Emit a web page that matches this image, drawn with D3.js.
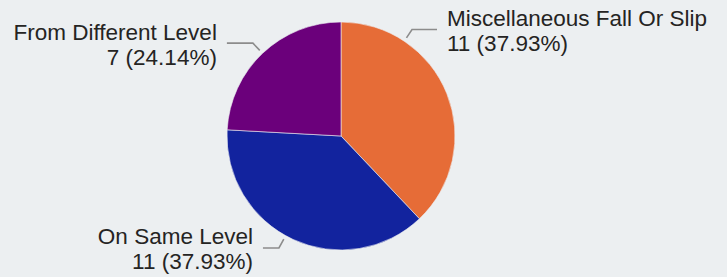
<!DOCTYPE html>
<html>
<head>
<meta charset="utf-8">
<script src="https://cdn.jsdelivr.net/npm/d3@7"></script>
<style>
  html, body { margin: 0; padding: 0; background: #ECEFF1; }
  svg { display: block; }
</style>
</head>
<body>
<svg id="chart" width="727" height="277"></svg>
<script>
// data
var categories = ["Miscellaneous Fall Or Slip", "On Same Level", "From Different Level"];
var values = [11, 11, 7];
var colors = ["#E66C37", "#12239E", "#6B007B"];

// label placement (angle of leader, in degrees clockwise from top; horizontal leg length)
var labelAngles = [33.7, 209, 316.5];
var labelLegs = [25, 16, 26];

var W = 727, H = 277;
var cx = 341, cy = 136, R = 114;

var svg = d3.select("#chart");

var total = d3.sum(values);
var data = categories.map(function(c, i) {
    return { name: c, value: values[i], color: colors[i], ang: labelAngles[i], leg: labelLegs[i] };
});

var pie = d3.pie()
    .value(function(d) { return d.value; })
    .sort(null);

var arc = d3.arc()
    .innerRadius(0)
    .outerRadius(R);

var g = svg.append("g")
    .attr("transform", "translate(" + cx + "," + cy + ")");

g.selectAll("path.slice")
    .data(pie(data))
    .enter()
    .append("path")
    .attr("class", "slice")
    .attr("d", arc)
    .attr("fill", function(d) { return d.data.color; })
    .attr("stroke", "#ECEFF1")
    .attr("stroke-width", 0.6);

function pt(angDeg, r) {
    var a = angDeg * Math.PI / 180;
    return [r * Math.sin(a), -r * Math.cos(a)];
}

var fmt = d3.format(".2%");

var labels = g.selectAll("g.lbl")
    .data(data)
    .enter()
    .append("g")
    .attr("class", "lbl");

labels.append("polyline")
    .attr("points", function(d) {
        var p0 = pt(d.ang, R + 4);
        var p1 = pt(d.ang, R + 14);
        var side = p1[0] >= 0 ? 1 : -1;
        var p2 = [p1[0] + side * d.leg, p1[1]];
        return [p0, p1, p2].map(function(p) { return p.join(","); }).join(" ");
    })
    .attr("fill", "none")
    .attr("stroke", "#8C8C8C")
    .attr("stroke-width", 1.6);

labels.each(function(d) {
    var p1 = pt(d.ang, R + 14);
    var side = p1[0] >= 0 ? 1 : -1;
    var tx = p1[0] + side * (d.leg + 10);
    var t = d3.select(this).append("text")
        .attr("x", tx)
        .attr("y", p1[1] - 3.5)
        .attr("text-anchor", side > 0 ? "start" : "end")
        .attr("font-family", "'Liberation Sans', Arial, sans-serif")
        .attr("font-size", "22.5px")
        .attr("fill", "#252423");
    t.append("tspan")
        .attr("x", tx)
        .text(d.name);
    t.append("tspan")
        .attr("x", tx)
        .attr("dy", 25)
        .text(d.value + " (" + fmt(d.value / total) + ")");
});
</script>
</body>
</html>
